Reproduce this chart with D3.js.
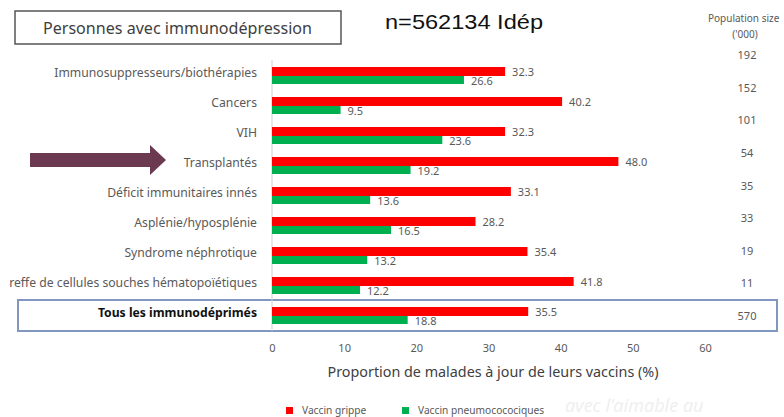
<!DOCTYPE html>
<html><head><meta charset="utf-8">
<script src="https://cdn.jsdelivr.net/npm/d3@7/dist/d3.min.js"></script>
<style>
html,body{margin:0;padding:0;background:#fff;}
svg{display:block;font-family:"Noto Sans","Open Sans",sans-serif;}
</style></head>
<body>
<svg id="c" width="784" height="417"></svg>
<script>
const categories = ["Immunosuppresseurs/biothérapies","Cancers","VIH","Transplantés","Déficit immunitaires innés","Asplénie/hyposplénie","Syndrome néphrotique","reffe de cellules souches hématopoïétiques","Tous les immunodéprimés"];
const grippe = [32.3,40.2,32.3,48.0,33.1,28.2,35.4,41.8,35.5];
const pneumo = [26.6,9.5,23.6,19.2,13.6,16.5,13.2,12.2,18.8];
const population = ["192","152","101","54","35","33","19","11","570"];
const xTicks = [0,10,20,30,40,50,60];
const seriesNames = ["Vaccin grippe","Vaccin pneumococociques"];
const colors = ["#ff0000","#00b050"];

const svg = d3.select("#c");
const x = d3.scaleLinear().domain([0,60]).range([272,705]);
const y = d3.scaleBand().domain(categories).range([61,331]);
const yPop = d3.scalePoint().domain(d3.range(population.length)).range([55,316]);
const textCol = "#595959";

// title box
svg.append("rect").attr("x",15).attr("y",11).attr("width",326).attr("height",33)
  .attr("fill","none").attr("stroke","#555").attr("stroke-width",1.5);
svg.append("text").attr("x",43).attr("y",34).attr("font-size",17).attr("fill","#404040")
  .attr("textLength",269).attr("lengthAdjust","spacingAndGlyphs").text("Personnes avec immunodépression");
svg.append("text").attr("x",385).attr("y",29).attr("font-size",21).attr("fill","#111")
  .attr("font-family","Liberation Sans, Arial, sans-serif")
  .attr("textLength",158).attr("lengthAdjust","spacingAndGlyphs").text("n=562134 Idép");

// population header
svg.append("text").attr("x",708).attr("y",22).attr("font-size",10).attr("fill",textCol).text("Population size");
svg.append("text").attr("x",745).attr("y",38).attr("font-size",10).attr("fill",textCol).attr("text-anchor","middle").text("('000)");
svg.selectAll("text.pop").data(population).join("text").attr("class","pop")
  .attr("x",747).attr("y",(d,i)=>yPop(i)+4).attr("font-size",11).attr("fill",textCol)
  .attr("text-anchor","middle").text(d=>d);

// highlight box
svg.append("rect").attr("x",18).attr("y",300).attr("width",759).attr("height",31)
  .attr("fill","none").attr("stroke","#8197c0").attr("stroke-width",2);

// axis line
svg.append("line").attr("x1",x(0)).attr("x2",x(0)).attr("y1",60).attr("y2",331)
  .attr("stroke","#d0d0d0").attr("stroke-width",1);

// category labels
svg.selectAll("text.cat").data(categories).join("text").attr("class","cat")
  .attr("x",257).attr("y",d=>y(d)+y.bandwidth()/2+0.5).attr("text-anchor","end")
  .attr("font-size",12.2).attr("fill",(d,i)=>i===categories.length-1?"#111":textCol)
  .attr("font-weight",(d,i)=>i===categories.length-1?"bold":"normal")
  .text(d=>d);

const cy = d => y(d)+y.bandwidth()/2;
// bars
svg.selectAll("rect.g").data(categories).join("rect").attr("class","g")
  .attr("x",x(0)).attr("y",d=>cy(d)-9).attr("height",9)
  .attr("width",(d,i)=>x(grippe[i])-x(0)).attr("fill",colors[0]);
svg.selectAll("rect.p").data(categories).join("rect").attr("class","p")
  .attr("x",x(0)).attr("y",d=>cy(d)).attr("height",8)
  .attr("width",(d,i)=>x(pneumo[i])-x(0)).attr("fill",colors[1]);

// value labels
svg.selectAll("text.vg").data(categories).join("text").attr("class","vg")
  .attr("x",(d,i)=>x(grippe[i])+7).attr("y",d=>cy(d)-0.5).attr("font-size",11).attr("fill",textCol)
  .text((d,i)=>grippe[i].toFixed(1));
svg.selectAll("text.vp").data(categories).join("text").attr("class","vp")
  .attr("x",(d,i)=>x(pneumo[i])+7).attr("y",d=>cy(d)+9).attr("font-size",11).attr("fill",textCol)
  .text((d,i)=>pneumo[i].toFixed(1));

// x axis
const ax = svg.append("g").attr("transform","translate(0,335)")
  .call(d3.axisBottom(x).tickValues(xTicks).tickSize(0).tickPadding(9).tickFormat(d3.format("d")));
ax.select(".domain").remove();
ax.selectAll("text").attr("font-size",11).attr("fill",textCol).attr("font-family","Noto Sans, sans-serif");

svg.append("text").attr("x",493).attr("y",377).attr("text-anchor","middle").attr("font-size",15)
  .attr("fill","#404040").attr("textLength",331).attr("lengthAdjust","spacingAndGlyphs")
  .text("Proportion de malades à jour de leurs vaccins (%)");

// arrow
const arrow = d3.path();
arrow.moveTo(30,153); arrow.lineTo(150,153); arrow.lineTo(150,145); arrow.lineTo(166,160);
arrow.lineTo(150,175); arrow.lineTo(150,167); arrow.lineTo(30,167); arrow.closePath();
svg.append("path").attr("d",arrow.toString()).attr("fill","#6b3a50");

// legend
const lx = [286,402];
seriesNames.forEach((n,i)=>{
  svg.append("rect").attr("x",lx[i]).attr("y",407).attr("width",7).attr("height",7).attr("fill",colors[i]);
  svg.append("text").attr("x",lx[i]+16).attr("y",414).attr("font-size",10.2).attr("fill",textCol).text(n);
});

// watermark
svg.append("text").attr("x",565).attr("y",412).attr("font-size",18).attr("font-style","italic")
  .attr("fill","#efefef").text("avec l'aimable au");
</script>
</body></html>
